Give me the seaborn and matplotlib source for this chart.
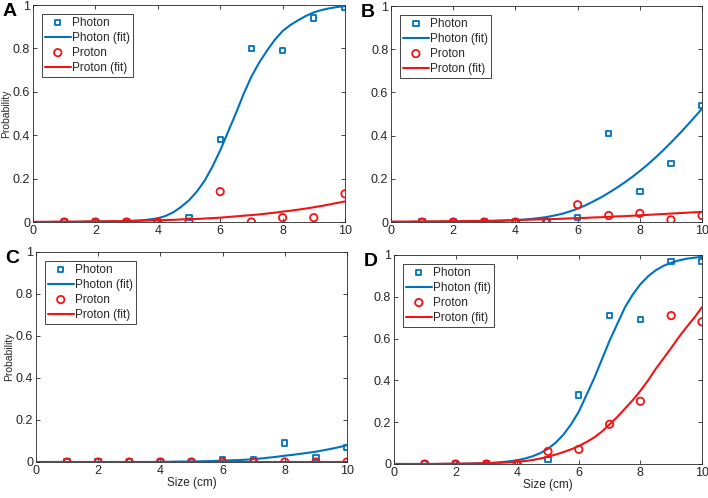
import pandas as pd
import matplotlib
matplotlib.use('Agg')
import matplotlib.pyplot as plt
import seaborn as sns
from matplotlib.ticker import FuncFormatter


# [data]
x_pts = [1, 2, 3, 4, 5, 6, 7, 8, 9, 10]
x_fit = [0, 0.25, 0.5, 0.75, 1, 1.25, 1.5, 1.75, 2, 2.25, 2.5, 2.75, 3, 3.25, 3.5, 3.75,
         4, 4.25, 4.5, 4.75, 5, 5.25, 5.5, 5.75, 6, 6.25, 6.5, 6.75, 7, 7.25, 7.5, 7.75,
         8, 8.25, 8.5, 8.75, 9, 9.25, 9.5, 9.75, 10]

# A
a_photon = [0, 0, 0, 0, 0.02, 0.38, 0.80, 0.79, 0.94, 0.99]
a_proton = [0, 0, 0, 0, 0, 0.14, 0, 0.02, 0.02, 0.13]
a_photon_fit = [0, 0, 0, 0, 0, 0, 0.001, 0.001, 0.001, 0.002, 0.002, 0.003, 0.004, 0.006,
                0.008, 0.012, 0.017, 0.028, 0.045, 0.07, 0.10, 0.14, 0.19, 0.255, 0.33,
                0.415, 0.50, 0.59, 0.67, 0.735, 0.79, 0.84, 0.88, 0.908, 0.93, 0.95, 0.966,
                0.977, 0.985, 0.991, 0.995]
a_proton_fit = [0.001, 0.001, 0.001, 0.002, 0.002, 0.002, 0.002, 0.003, 0.003, 0.003, 0.004,
                0.004, 0.005, 0.005, 0.006, 0.007, 0.008, 0.009, 0.010, 0.012, 0.013, 0.014,
                0.016, 0.018, 0.020, 0.023, 0.026, 0.029, 0.032, 0.035, 0.039, 0.043, 0.048,
                0.052, 0.057, 0.062, 0.068, 0.074, 0.081, 0.088, 0.095]

# B
b_photon = [0, 0, 0, 0, 0, 0.02, 0.41, 0.14, 0.27, 0.54]
b_proton = [0, 0, 0, 0, 0, 0.08, 0.03, 0.04, 0.01, 0.03]
b_photon_fit = [0, 0, 0, 0, 0, 0.001, 0.001, 0.001, 0.001, 0.002, 0.002, 0.003, 0.003, 0.004,
                0.005, 0.007, 0.009, 0.011, 0.014, 0.018, 0.023, 0.030, 0.038, 0.049, 0.062,
                0.077, 0.095, 0.114, 0.135, 0.158, 0.182, 0.208, 0.236, 0.266, 0.298, 0.332,
                0.368, 0.405, 0.444, 0.484, 0.525]
b_proton_fit = [0.002, 0.002, 0.002, 0.003, 0.003, 0.003, 0.003, 0.004, 0.004, 0.004, 0.005,
                0.005, 0.006, 0.006, 0.007, 0.008, 0.009, 0.010, 0.011, 0.012, 0.013, 0.014,
                0.015, 0.017, 0.018, 0.019, 0.021, 0.022, 0.024, 0.026, 0.027, 0.029, 0.031,
                0.033, 0.035, 0.037, 0.039, 0.041, 0.043, 0.045, 0.047]

# C
c_photon = [0, 0, 0, 0, 0, 0.01, 0.01, 0.09, 0.02, 0.07]
c_proton = [0, 0, 0, 0, 0, 0, 0, 0, 0, 0]
c_photon_fit = [0, 0, 0, 0, 0, 0, 0, 0, 0, 0, 0, 0, 0, 0, 0, 0,
                0.001, 0.001, 0.002, 0.002, 0.003, 0.003, 0.004, 0.005, 0.006, 0.008, 0.009,
                0.011, 0.014, 0.017, 0.021, 0.025, 0.030, 0.034, 0.039, 0.044, 0.049, 0.056,
                0.063, 0.071, 0.080]
c_proton_fit = [0] * 41

# D
d_photon = [0, 0, 0, 0, 0.02, 0.33, 0.71, 0.69, 0.97, 0.97]
d_proton = [0, 0, 0, 0, 0.06, 0.07, 0.19, 0.30, 0.71, 0.68]
d_photon_fit = [0, 0, 0, 0, 0, 0, 0, 0.001, 0.001, 0.001, 0.002, 0.003, 0.004, 0.006, 0.009,
                0.013, 0.018, 0.026, 0.037, 0.052, 0.073, 0.102, 0.14, 0.19, 0.25, 0.33,
                0.41, 0.50, 0.59, 0.67, 0.75, 0.81, 0.86, 0.898, 0.927, 0.948, 0.963, 0.974,
                0.982, 0.987, 0.991]
d_proton_fit = [0, 0, 0, 0, 0, 0, 0.001, 0.001, 0.001, 0.002, 0.002, 0.003, 0.004, 0.005,
                0.006, 0.008, 0.011, 0.014, 0.019, 0.026, 0.035, 0.045, 0.057, 0.070, 0.086,
                0.105, 0.127, 0.155, 0.19, 0.225, 0.265, 0.305, 0.35, 0.40, 0.455, 0.505,
                0.555, 0.607, 0.655, 0.70, 0.75]

panels = {
    'A': (a_photon, a_proton, a_photon_fit, a_proton_fit),
    'B': (b_photon, b_proton, b_photon_fit, b_proton_fit),
    'C': (c_photon, c_proton, c_photon_fit, c_proton_fit),
    'D': (d_photon, d_proton, d_photon_fit, d_proton_fit),
}

# axes boxes in figure fraction (left, bottom, width, height)
boxes = {
    'A': [0.0466, 0.5542, 0.4407, 0.4357],
    'B': [0.5523, 0.5542, 0.4393, 0.4337],
    'C': [0.0508, 0.0723, 0.4393, 0.4217],
    'D': [0.5565, 0.0683, 0.4350, 0.4197],
}

blue = '#0072BD'
red = '#F01414'
dark = '#262626'
fs = 9

sns.set_style('ticks')
plt.rcParams['font.family'] = ['Liberation Sans', 'DejaVu Sans']
plt.rcParams['font.size'] = fs

fig = plt.figure(figsize=(7.08, 4.98), dpi=100)

for name, (ph, pr, ph_fit, pr_fit) in panels.items():
    ax = fig.add_axes(boxes[name])
    df_pts = pd.DataFrame({'x': x_pts, 'photon': ph, 'proton': pr})
    df_fit = pd.DataFrame({'x': x_fit, 'photon': ph_fit, 'proton': pr_fit})

    sns.scatterplot(data=df_pts, x='x', y='photon', ax=ax, marker='s', s=15,
                    fc='none', ec=blue, linewidth=1.3, label='Photon', zorder=3)
    sns.lineplot(data=df_fit, x='x', y='photon', ax=ax, color=blue, linewidth=1.5,
                 label='Photon (fit)', zorder=2)
    sns.scatterplot(data=df_pts, x='x', y='proton', ax=ax, marker='o', s=28,
                    fc='none', ec=red, linewidth=1.3, label='Proton', zorder=4)
    sns.lineplot(data=df_fit, x='x', y='proton', ax=ax, color=red, linewidth=1.5,
                 label='Proton (fit)', zorder=5)

    ax.set_xlim(0, 10)
    ax.set_ylim(0, 1)
    ax.set_xticks([0, 2, 4, 6, 8, 10])
    ax.set_yticks([0, 0.2, 0.4, 0.6, 0.8, 1])
    ax.yaxis.set_major_formatter(FuncFormatter(lambda v, p: f'{v:g}'))
    ax.tick_params(direction='in', top=True, right=True, length=3, width=0.6,
                   colors=dark, labelsize=fs, pad=2)
    for sp in ax.spines.values():
        sp.set_visible(True)
        sp.set_color(dark)
        sp.set_linewidth(0.6)

    ax.set_xlabel('Size (cm)' if name in 'CD' else '', fontsize=8.5, color=dark, labelpad=0)
    ax.set_ylabel('Probability' if name in 'AC' else '', fontsize=7.5, color=dark, labelpad=1)

    leg = ax.legend(loc='upper left', bbox_to_anchor=(0, 1), borderaxespad=0.75,
                    fancybox=False, framealpha=1, edgecolor=dark, handlelength=2.2,
                    handletextpad=0.1, labelspacing=0.25, borderpad=0.25, fontsize=8.5)
    leg.get_frame().set_linewidth(0.6)

    pos = boxes[name]
    fig.text(pos[0] - 0.043, pos[1] + pos[3] + 0.004, name, fontsize=14,
             fontweight='bold', va='top', ha='left', color='black')

plt.savefig('out.png', dpi=100)
